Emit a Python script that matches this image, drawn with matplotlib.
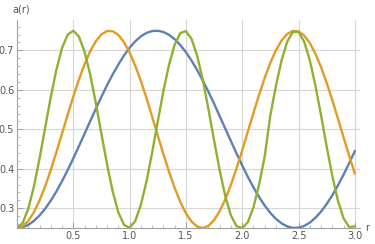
import numpy as np
import matplotlib.pyplot as plt
from matplotlib.ticker import MultipleLocator, FormatStrFormatter

# r values (step 0.05)
r = [i * 0.05 for i in range(61)]

# values
a_blue = [0.2500, 0.2520, 0.2580, 0.2680, 0.2817, 0.2989, 0.3193, 0.3427, 0.3686, 0.3968,
          0.4264, 0.4573, 0.4889, 0.5207, 0.5521, 0.5827, 0.6119, 0.6393, 0.6642, 0.6871,
          0.7068, 0.7230, 0.7356, 0.7443, 0.7490, 0.7498, 0.7466, 0.7394, 0.7284, 0.7136,
          0.6954, 0.6741, 0.6500, 0.6235, 0.5951, 0.5651, 0.5333, 0.5016, 0.4699, 0.4386,
          0.4084, 0.3796, 0.3528, 0.3284, 0.3067, 0.2881, 0.2730, 0.2616, 0.2540, 0.2503,
          0.2507, 0.2551, 0.2636, 0.2758, 0.2916, 0.3108, 0.3330, 0.3579, 0.3852, 0.4144,
          0.4448]
a_orange = [0.2500, 0.2546, 0.2680, 0.2899, 0.3195, 0.3556, 0.3971, 0.4421, 0.4893, 0.5369,
            0.5831, 0.6264, 0.6650, 0.6977, 0.7232, 0.7405, 0.7491, 0.7486, 0.7391, 0.7209,
            0.6947, 0.6614, 0.6224, 0.5789, 0.5321, 0.4845, 0.4374, 0.3926, 0.3517, 0.3162,
            0.2874, 0.2663, 0.2537, 0.2500, 0.2555, 0.2699, 0.2926, 0.3228, 0.3595, 0.4014,
            0.4467, 0.4941, 0.5416, 0.5876, 0.6305, 0.6686, 0.7005, 0.7253, 0.7418, 0.7494,
            0.7481, 0.7377, 0.7187, 0.6917, 0.6578, 0.6179, 0.5741, 0.5274, 0.4797, 0.4328,
            0.3883]
a_green = [0.2500, 0.2625, 0.2987, 0.3550, 0.4258, 0.5040, 0.5818, 0.6514, 0.7059, 0.7399,
           0.7499, 0.7349, 0.6965, 0.6389, 0.5667, 0.4881, 0.4108, 0.3424, 0.2897, 0.2580,
           0.2505, 0.2679, 0.3085, 0.3683, 0.4410, 0.5198, 0.5966, 0.6637, 0.7145, 0.7439,
           0.7489, 0.7291, 0.6863, 0.6250, 0.5513, 0.4723, 0.3962, 0.3304, 0.2815, 0.2545,
           0.2501, 0.2647, 0.3027, 0.3601, 0.4321, 0.5356, 0.6110, 0.6754, 0.7222, 0.7469,
           0.7469, 0.7222, 0.6754, 0.6110, 0.5356, 0.4566, 0.3820, 0.3191, 0.2743, 0.2520,
           0.2545]

x_ticks = [0.5, 1.0, 1.5, 2.0, 2.5, 3.0]
y_ticks = [0.3, 0.4, 0.5, 0.6, 0.7]

fig = plt.figure(figsize=(3.75, 2.44), dpi=100)
ax = fig.add_axes([17/375, 16/244, 343/375, 208/244])

ax.plot(r, a_blue, color='#5E81B5', lw=1.7, zorder=3)
ax.plot(r, a_orange, color='#E19C24', lw=1.7, zorder=3)
ax.plot(r, a_green, color='#8FB032', lw=1.7, zorder=3)

ax.set_xlim(0, 3.046)
ax.set_ylim(0.25, 0.777)

ax.set_xticks(x_ticks)
ax.set_yticks(y_ticks)
ax.xaxis.set_minor_locator(MultipleLocator(0.1))
ax.yaxis.set_minor_locator(MultipleLocator(0.02))
ax.xaxis.set_major_formatter(FormatStrFormatter('%.1f'))
ax.yaxis.set_major_formatter(FormatStrFormatter('%.1f'))
ax.grid(True, which='major', color='#d6d6d6', lw=0.8, zorder=1)

for s in ['top', 'right']:
    ax.spines[s].set_visible(False)
for s in ['left', 'bottom']:
    ax.spines[s].set_color('#a0a0a0')
    ax.spines[s].set_linewidth(0.8)

ax.tick_params(which='both', direction='in', color='#a0a0a0', labelcolor='#555555', labelsize=7)
ax.tick_params(which='major', length=4, width=0.7, pad=2)
ax.tick_params(which='minor', length=2, width=0.5)

fig.text(12/375, 1 - 9/244, 'a(r)', fontsize=7, color='#555555', va='center', ha='left')
fig.text(365/375, 1 - 228/244, 'r', fontsize=7, color='#555555', va='center', ha='left')

fig.savefig('out.png', dpi=100)
